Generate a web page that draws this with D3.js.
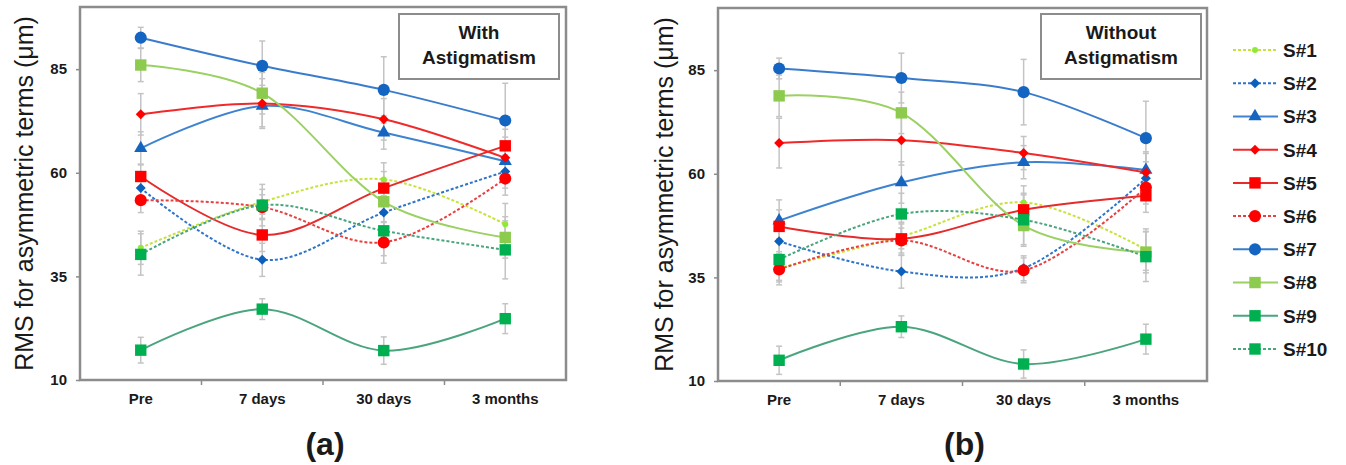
<html>
  <head>
    <meta charset="utf-8" />
    <title>RMS asymmetric terms</title>
    <script src="https://d3js.org/d3.v7.min.js"></script>
    <style>
      body {
        margin: 0;
        background: #fff;
      }
      text {
        font-family: "Liberation Sans", Arial, sans-serif;
        fill: #1a1a1a;
      }
    </style>
  </head>
  <body>
    <svg id="chart"></svg>

    <script>

      var width = 1346;
      var height = 465;

      // data
      var categories = ["Pre", "7 days", "30 days", "3 months"];
      var seriesNames = ["S#1", "S#2", "S#3", "S#4", "S#5", "S#6", "S#7", "S#8", "S#9", "S#10"];
      var yTicks = [10, 35, 60, 85];

      // (a) with astigmatism, one row per subject
      var withAstig = [
        [41.9, 53.0, 58.4, 47.6],
        [56.3, 39.0, 50.4, 60.3],
        [65.9, 76.1, 69.7, 62.8],
        [74.1, 76.7, 72.9, 63.6],
        [59.1, 45.0, 56.3, 66.5],
        [53.4, 51.7, 43.2, 58.6],
        [92.6, 85.8, 80.0, 72.6],
        [86.0, 79.2, 53.0, 44.4],
        [17.2, 27.1, 17.1, 24.8],
        [40.3, 52.2, 46.0, 41.4]
      ];
      var withAstigErr = [
        [4, 3, 4, 5],
        [3, 4, 4, 4],
        [4, 5, 4, 4],
        [5, 6, 5, 5],
        [3, 4, 4, 4],
        [3, 3, 5, 4],
        [2.5, 6, 8, 9],
        [4, 5, 5, 5],
        [3.1, 2.5, 3.3, 3.6],
        [5, 5, 6, 7]
      ];

      // (b) without astigmatism
      var withoutAstig = [
        [37.2, 44.9, 53.1, 41.7],
        [43.7, 36.4, 37.2, 58.9],
        [48.7, 57.9, 62.8, 60.9],
        [67.4, 68.1, 65.0, 60.3],
        [47.3, 44.3, 51.3, 54.7],
        [36.9, 43.9, 36.7, 56.7],
        [85.4, 83.1, 79.7, 68.6],
        [78.8, 74.7, 47.5, 41.1],
        [15.0, 23.1, 14.1, 20.1],
        [39.3, 50.3, 48.9, 40.0]
      ];
      var withoutAstigErr = [
        [4, 3, 4, 5],
        [3, 4, 3, 4],
        [5, 5, 4, 4],
        [6, 6, 4, 5],
        [4, 4, 4, 4],
        [3, 3, 3, 4],
        [2.5, 6, 7.9, 8.9],
        [5, 5, 5, 5],
        [3.4, 2.6, 3.4, 3.6],
        [5, 5, 6, 6]
      ];

      // look of each series (not data)
      var styles = [
        { line: "#c6e33c", fill: "#8fe83a", dash: "3,2", symbol: "circle", size: 28 },
        { line: "#2f74c8", fill: "#0b5fbd", dash: "3,2", symbol: "diamond", size: 50 },
        { line: "#3d83cf", fill: "#1565c0", dash: null, symbol: "triangle", size: 75 },
        { line: "#f02a2a", fill: "#ff0000", dash: null, symbol: "diamond", size: 50 },
        { line: "#e52b2b", fill: "#ff0000", dash: null, symbol: "square", size: 130 },
        { line: "#e84040", fill: "#ff0000", dash: "3,2", symbol: "circle", size: 115 },
        { line: "#3a7ccc", fill: "#1464c2", dash: null, symbol: "circle", size: 115 },
        { line: "#9bd062", fill: "#8ccb4e", dash: null, symbol: "square", size: 130 },
        { line: "#4aa57e", fill: "#00b050", dash: null, symbol: "square", size: 130 },
        { line: "#4aa57e", fill: "#00b050", dash: "3,2", symbol: "square", size: 130 }
      ];

      var svg = d3.select("#chart")
        .attr("width", width)
        .attr("height", height);

      function symbolPath(s) {
        var type = d3.symbolCircle;
        if (s.symbol === "square" || s.symbol === "diamond") type = d3.symbolSquare;
        if (s.symbol === "triangle") type = d3.symbolTriangle;
        return d3.symbol().type(type).size(s.size)();
      }

      function drawMarker(sel, s) {
        sel.append("path")
          .attr("d", symbolPath(s))
          .attr("fill", s.fill)
          .attr("stroke", s.fill)
          .attr("stroke-width", 0.5)
          .attr("transform", function() {
            var t = d3.select(this.parentNode).attr("data-t") || "";
            return t;
          });
      }

      function drawPanel(opt) {
        var g = svg.append("g");

        var x = d3.scaleBand()
          .domain(categories)
          .range([opt.left, opt.right]);

        var y = d3.scaleLinear()
          .domain([10, 100])
          .range([opt.bottom, opt.top]);

        var cx = function(i) {
          return x(categories[i]) + x.bandwidth() / 2;
        };

        // frame
        g.append("rect")
          .attr("x", opt.left)
          .attr("y", opt.top)
          .attr("width", opt.right - opt.left)
          .attr("height", opt.bottom - opt.top)
          .attr("fill", "none")
          .attr("stroke", "#8c8c8c")
          .attr("stroke-width", 2.5);

        // y axis
        var yAxis = d3.axisLeft(y)
          .tickValues(yTicks)
          .tickSize(4)
          .tickPadding(9);
        var ya = g.append("g")
          .attr("transform", "translate(" + opt.left + ",0)")
          .call(yAxis);
        ya.select(".domain").remove();
        ya.selectAll("line").attr("stroke", "#8c8c8c").attr("stroke-width", 1.5);
        ya.selectAll("text")
          .style("font-size", "15px")
          .style("font-weight", "bold")
          .attr("fill", "#1a1a1a");

        // x axis
        var xAxis = d3.axisBottom(x)
          .tickSize(0)
          .tickPadding(13);
        var xa = g.append("g")
          .attr("transform", "translate(0," + opt.bottom + ")")
          .call(xAxis);
        xa.select(".domain").remove();
        xa.selectAll("text")
          .style("font-size", "15px")
          .style("font-weight", "bold")
          .attr("fill", "#1a1a1a");

        // band boundary ticks
        g.selectAll(".xtick")
          .data(categories.slice(1))
          .enter().append("line")
          .attr("x1", function(d) { return x(d); })
          .attr("x2", function(d) { return x(d); })
          .attr("y1", opt.bottom)
          .attr("y2", opt.bottom + 5)
          .attr("stroke", "#8c8c8c")
          .attr("stroke-width", 1.5);

        // y label
        g.append("text")
          .attr("transform", "translate(" + opt.labelX + "," + (opt.top + opt.bottom) / 2 + ") rotate(-90)")
          .attr("text-anchor", "middle")
          .attr("dy", "0.35em")
          .style("font-size", "25px")
          .text("RMS for asymmetric terms (\u03bcm)");

        // error bars
        opt.values.forEach(function(vals, si) {
          var errs = opt.errors[si];
          var eb = g.append("g")
            .attr("stroke", "#c4c4c4")
            .attr("stroke-width", 1.5);
          vals.forEach(function(v, i) {
            var xc = cx(i);
            var y0 = y(v - errs[i]);
            var y1 = y(v + errs[i]);
            eb.append("line").attr("x1", xc).attr("x2", xc).attr("y1", y0).attr("y2", y1);
            eb.append("line").attr("x1", xc - 3).attr("x2", xc + 3).attr("y1", y0).attr("y2", y0);
            eb.append("line").attr("x1", xc - 3).attr("x2", xc + 3).attr("y1", y1).attr("y2", y1);
          });
        });

        var line = d3.line()
          .x(function(d, i) { return cx(i); })
          .y(function(d) { return y(d); })
          .curve(d3.curveCatmullRom.alpha(0));

        // lines and markers, series order
        opt.values.forEach(function(vals, si) {
          var s = styles[si];
          g.append("path")
            .datum(vals)
            .attr("d", line)
            .attr("fill", "none")
            .attr("stroke", s.line)
            .attr("stroke-width", 2)
            .attr("stroke-dasharray", s.dash);

          g.selectAll(".m" + si)
            .data(vals)
            .enter().append("path")
            .attr("d", symbolPath(s))
            .attr("fill", s.fill)
            .attr("transform", function(d, i) {
              var t = "translate(" + cx(i) + "," + y(d) + ")";
              if (s.symbol === "diamond") t += " rotate(45)";
              return t;
            });
        });

        // annotation box
        g.append("rect")
          .attr("x", opt.box[0])
          .attr("y", opt.box[1])
          .attr("width", opt.box[2])
          .attr("height", opt.box[3])
          .attr("fill", "#fff")
          .attr("stroke", "#8c8c8c")
          .attr("stroke-width", 2);

        g.selectAll(".boxtext")
          .data(opt.boxText)
          .enter().append("text")
          .attr("x", opt.box[0] + opt.box[2] / 2)
          .attr("y", function(d, i) { return opt.box[1] + 25 + i * 25; })
          .attr("text-anchor", "middle")
          .style("font-size", "19px")
          .style("font-weight", "bold")
          .text(function(d) { return d; });

        // panel letter
        g.append("text")
          .attr("x", (opt.left + opt.right) / 2 + 2)
          .attr("y", 455)
          .attr("text-anchor", "middle")
          .style("font-size", "32px")
          .style("font-weight", "bold")
          .text(opt.letter);
      }

      drawPanel({
        left: 80, right: 566, top: 7, bottom: 380,
        labelX: 24,
        values: withAstig,
        errors: withAstigErr,
        box: [399, 14, 160, 65],
        boxText: ["With", "Astigmatism"],
        letter: "(a)"
      });

      drawPanel({
        left: 718, right: 1207, top: 8, bottom: 381,
        labelX: 664,
        values: withoutAstig,
        errors: withoutAstigErr,
        box: [1041, 14, 160, 65],
        boxText: ["Without", "Astigmatism"],
        letter: "(b)"
      });

      // legend
      var ly = d3.scalePoint()
        .domain(seriesNames)
        .range([50, 349]);

      var legend = svg.append("g");
      var rows = legend.selectAll(".row")
        .data(seriesNames)
        .enter().append("g")
        .attr("transform", function(d) { return "translate(0," + ly(d) + ")"; });

      rows.append("line")
        .attr("x1", 1233)
        .attr("x2", 1278)
        .attr("stroke", function(d, i) { return styles[i].line; })
        .attr("stroke-width", 2)
        .attr("stroke-dasharray", function(d, i) { return styles[i].dash; });

      rows.append("path")
        .attr("d", function(d, i) { return symbolPath(styles[i]); })
        .attr("fill", function(d, i) { return styles[i].fill; })
        .attr("transform", function(d, i) {
          return "translate(1255,0)" + (styles[i].symbol === "diamond" ? " rotate(45)" : "");
        });

      rows.append("text")
        .attr("x", 1283)
        .attr("dy", "0.36em")
        .style("font-size", "19px")
        .style("font-weight", "bold")
        .text(function(d) { return d; });

    </script>
  </body>
</html>
